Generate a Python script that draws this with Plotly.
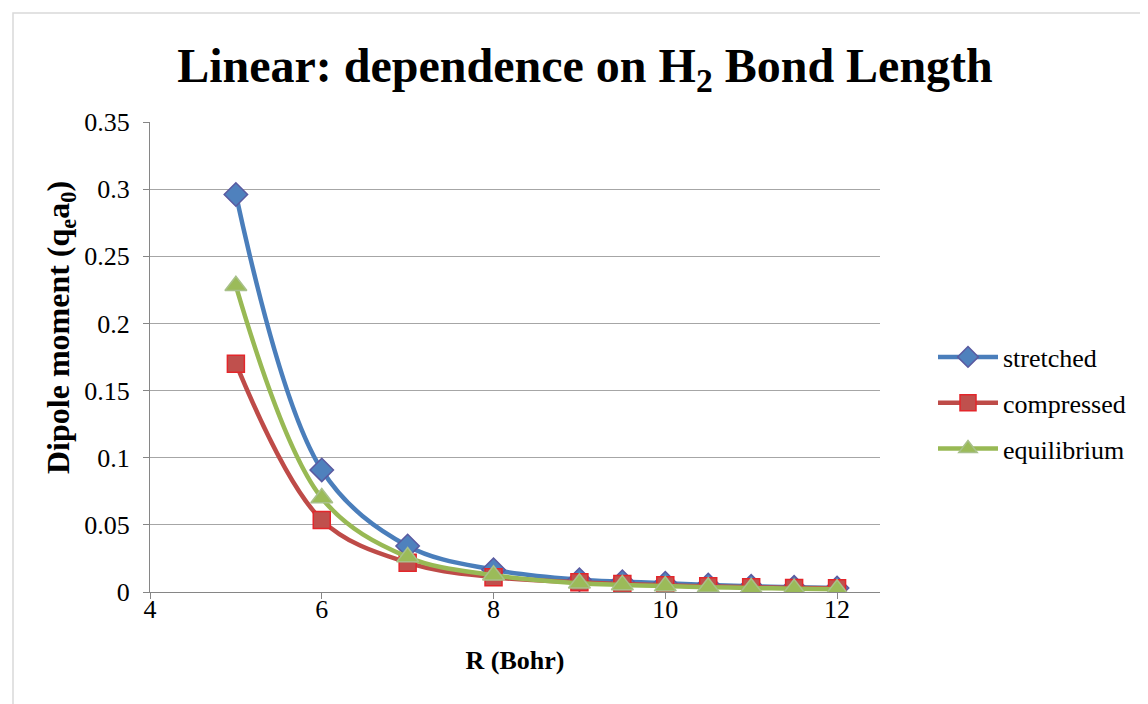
import plotly.graph_objects as go

# bond length R (Bohr)
r_bohr = [5, 6, 7, 8, 9, 9.5, 10, 10.5, 11, 11.5, 12]

# dipole moment (q_e a_0)
stretched = [0.296, 0.0909, 0.0343, 0.0166, 0.0092, 0.0077, 0.0065, 0.0052, 0.0042, 0.0035, 0.0030]
compressed = [0.170, 0.0536, 0.0218, 0.0110, 0.0072, 0.0060, 0.0050, 0.0042, 0.0036, 0.0030, 0.0027]
equilibrium = [0.228, 0.0700, 0.0260, 0.0125, 0.0065, 0.0053, 0.0044, 0.0036, 0.0030, 0.0025, 0.0021]

series_names = ["stretched", "compressed", "equilibrium"]

FONT = "Liberation Serif"

styles = {
    "stretched": dict(line="#4A7EBB", fill="#4F81BD", edge="#5A5AA0", symbol="diamond", size=18),
    "compressed": dict(line="#BE4B48", fill="#C0504D", edge="#E3262B", symbol="square", size=17),
    "equilibrium": dict(line="#98B954", fill="#9BBB59", edge="#A8C08A", symbol="triangle-up", size=19),
}

fig = go.Figure()
for name, ys in zip(series_names, [stretched, compressed, equilibrium]):
    st = styles[name]
    fig.add_trace(go.Scatter(
        x=r_bohr, y=ys, name=name, mode="lines+markers",
        legendgroup=name,
        line=dict(color=st["line"], width=4.5, shape="spline", smoothing=1.0),
        marker=dict(symbol=st["symbol"], size=st["size"], color=st["fill"],
                    line=dict(color=st["edge"], width=1.5)),
    ))

# page has an 8px body margin, so plot area is placed at 142..872 x 114..584
L, T, W, H = 142, 114, 730, 470

# light chart-area border, as in the spreadsheet export
fig.add_shape(type="rect", xref="paper", yref="paper",
              x0=(5 - L) / W, x1=(1200 - L) / W,
              y0=-(760 - T - H) / H, y1=1 + (T - 5) / H,
              line=dict(color="#D9D9D9", width=1.5), fillcolor="rgba(0,0,0,0)", layer="below")

# y axis title placed by hand (it sits a bit above the plot centre in the original)
fig.add_annotation(
    text="<b>Dipole moment (q<sub>e</sub>a<sub>0</sub>)</b>",
    xref="paper", yref="paper", x=(52 - L) / W, y=(T + H - 320) / H,
    xanchor="center", yanchor="middle", textangle=-90, showarrow=False,
    font=dict(family=FONT, size=32, color="black"),
)

fig.update_layout(
    width=1148, height=704,
    margin=dict(l=L, r=1148 - L - W, t=T, b=704 - T - H, autoexpand=False),
    paper_bgcolor="white", plot_bgcolor="white",
    font=dict(family=FONT, size=26, color="black"),
    title=dict(text="<b>Linear: dependence on H<sub>2</sub> Bond Length</b>",
               x=577 / 1148, xanchor="center", y=1 - 57 / 704, yanchor="middle",
               font=dict(family=FONT, size=48, color="black")),
    showlegend=True,
    legend=dict(x=(925 - L) / W, xanchor="left", y=(T + H - 395) / H, yanchor="middle",
                font=dict(family=FONT, size=26, color="black"),
                bgcolor="rgba(0,0,0,0)", tracegroupgap=9, itemwidth=60),
)

fig.update_xaxes(
    range=[4, 12.5], tick0=4, dtick=2, showgrid=False,
    showline=True, linecolor="#868686", linewidth=1,
    ticks="outside", ticklen=6, tickcolor="#868686",
    tickfont=dict(family=FONT, size=26), ticklabelstandoff=-12,
    title=dict(text="<b>R (Bohr)</b>", font=dict(family=FONT, size=26), standoff=27),
    zeroline=False, automargin=False,
)
fig.update_yaxes(
    range=[0, 0.35], tick0=0, dtick=0.05, showgrid=True, gridcolor="#A6A6A6", gridwidth=1,
    showline=True, linecolor="#868686", linewidth=1,
    ticks="outside", ticklen=6, tickcolor="#868686",
    tickfont=dict(family=FONT, size=26), ticklabelstandoff=8,
    tickformat="~g",
    zeroline=False, automargin=False,
)

fig.write_html("out.html")
